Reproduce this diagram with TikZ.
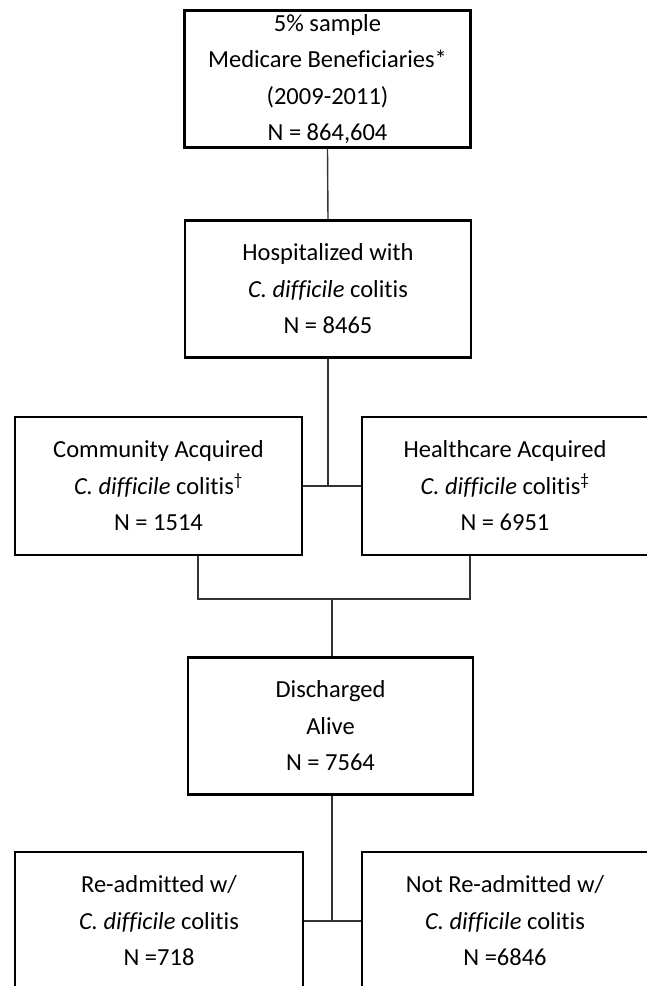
\documentclass[tikz,border=0pt]{standalone}
\usepackage{fontspec}
\setmainfont[Ligatures={NoCommon}]{Carlito}
\usetikzlibrary{positioning}

\begin{document}
\begin{tikzpicture}[x=1pt,y=-1pt,
    flowbox/.style={draw,line width=2.8pt,minimum width=286pt,minimum height=137pt,
      align=center,inner sep=0pt,font=\fontsize{24.5}{36.5}\selectfont},
    link/.style={draw=black!80,line width=1.4pt}]
  \useasboundingbox (0,0) rectangle (646,986);
  % boxes
  \node[flowbox] (sample) at (327.5,79) {5\% sample\\Medicare Beneficiaries*\\(2009-2011)\\N = 864,604};
  \node[flowbox] (hosp) at (328,289) {Hospitalized with\\\textit{C. difficile} colitis\\N = 8465};
  \node[flowbox,minimum width=287pt,minimum height=138pt] (comm) at (158.5,486) {Community Acquired\\\textit{C. difficile} colitis\textsuperscript{\textdagger}\\N = 1514};
  \node[flowbox,minimum height=138pt] (health) at (505,486) {Healthcare Acquired\\\textit{C. difficile} colitis\textsuperscript{\textdaggerdbl}\\N = 6951};
  \node[flowbox,minimum width=285pt] (disch) at (330.5,726) {Discharged\\Alive\\N = 7564};
  \node[flowbox,minimum width=288pt,minimum height=138pt] (readm) at (159,921) {Re-admitted w/\\\textit{C. difficile} colitis\\N =718};
  \node[flowbox,minimum height=138pt] (notre) at (505,921) {Not Re-admitted w/\\\textit{C. difficile} colitis\\N =6846};
  % joints
  \coordinate (j1) at (hosp.south |- comm.east);
  \coordinate (m1) at (198,599);
  \coordinate (m2) at (470,599);
  \coordinate (m3) at (332,599);
  \coordinate (j2) at (332,921);
  % connectors
  \draw[link] (sample.south) -- (hosp.north);
  \draw[link] (hosp.south) -- (j1);
  \draw[link] (comm.east) -- (health.west);
  \draw[link] (comm.south -| m1) -- (m1) -- (m2) -- (health.south -| m2);
  \draw[link] (m3) -- (m3 |- disch.north);
  \draw[link] (disch.south -| j2) -- (j2);
  \draw[link] (readm.east) -- (notre.west);
\end{tikzpicture}
\end{document}
